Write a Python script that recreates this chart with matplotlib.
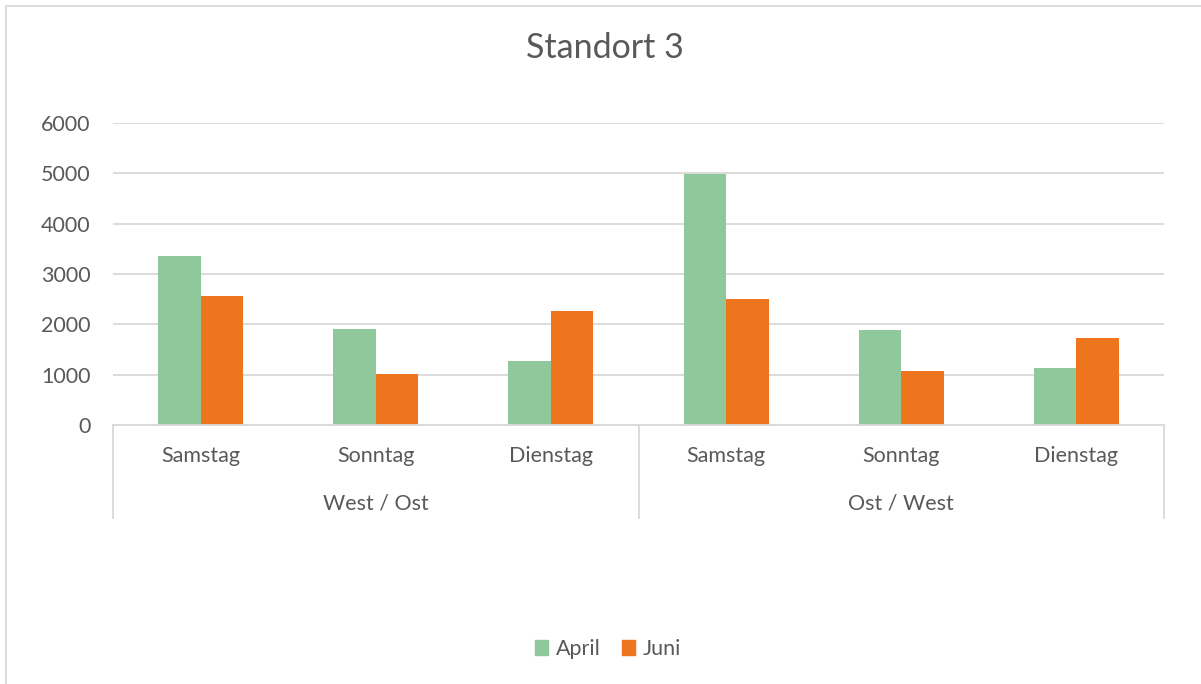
import numpy as np
import matplotlib
matplotlib.use("Agg")
import matplotlib.pyplot as plt
from matplotlib.lines import Line2D
from matplotlib.patches import Patch

plt.rcParams['font.family'] = ['Lato', 'DejaVu Sans']

# Data
days = ["Samstag", "Sonntag", "Dienstag", "Samstag", "Sonntag", "Dienstag"]
groups = ["West / Ost", "Ost / West"]
april = [3360, 1910, 1280, 4990, 1895, 1125]
juni = [2570, 1015, 2270, 2510, 1075, 1735]

green = "#8FC89A"
orange = "#EE741D"
text_col = "#595959"
grid_col = "#D9D9D9"
fs = 15.5

W, H = 1201, 684
fig = plt.figure(figsize=(W / 100, H / 100), dpi=100)

# plot area in pixel coords
left, right, top, bottom = 113, 1164, 123, 425
ax = fig.add_axes([left / W, 1 - bottom / H, (right - left) / W, (bottom - top) / H])

x = np.arange(len(days))
bw = 0.243
ax.bar(x - bw / 2, april, bw, color=green, zorder=3)
ax.bar(x + bw / 2, juni, bw, color=orange, zorder=3)

ax.set_xlim(-0.5, len(days) - 0.5)
ax.set_ylim(0, 6000)
ax.set_yticks(np.arange(0, 6001, 1000))
ax.yaxis.grid(True, color=grid_col, lw=1.3, zorder=0)
ax.tick_params(axis='y', length=0, pad=16, labelsize=fs, labelcolor=text_col)
ax.set_xticks([])
for s in ["top", "right", "left"]:
    ax.spines[s].set_visible(False)
ax.spines["bottom"].set_color(grid_col)
ax.spines["bottom"].set_linewidth(1.3)
ax.spines["bottom"].set_zorder(4)

# category and group labels
tr = ax.get_xaxis_transform()
axis_px = bottom - top
for i, d in enumerate(days):
    ax.text(i, -(456 - bottom) / axis_px, d, transform=tr, ha='center', va='center',
            fontsize=fs, color=text_col)
for g, name in enumerate(groups):
    ax.text(g * 3 + 1, -(503 - bottom) / axis_px, name, transform=tr, ha='center',
            va='center', fontsize=fs, color=text_col)
for sx in [-0.5, 2.5, 5.5]:
    ax.plot([sx, sx], [0, -(518 - bottom) / axis_px], transform=tr, color=grid_col,
            lw=1.3, clip_on=False)

# title
fig.text(605 / W, 1 - 48 / H, "Standort 3", ha='center', va='center', fontsize=24.5,
         color=text_col)

# legend
handles = [Patch(color=green, label="April"), Patch(color=orange, label="Juni")]
fig.legend(handles=handles, loc='center', bbox_to_anchor=(608 / W, 1 - 649 / H), ncol=2,
           frameon=False, fontsize=fs, labelcolor=text_col, handlelength=0.6,
           handleheight=0.65, handletextpad=0.35, columnspacing=1.0)

# chart border
fig.add_artist(Line2D([6 / W, 6 / W], [0, 1 - 6 / H], color=grid_col, lw=1.3))
fig.add_artist(Line2D([6 / W, 1], [1 - 6 / H, 1 - 6 / H], color=grid_col, lw=1.3))

fig.savefig("out.png", dpi=100, facecolor="white")
